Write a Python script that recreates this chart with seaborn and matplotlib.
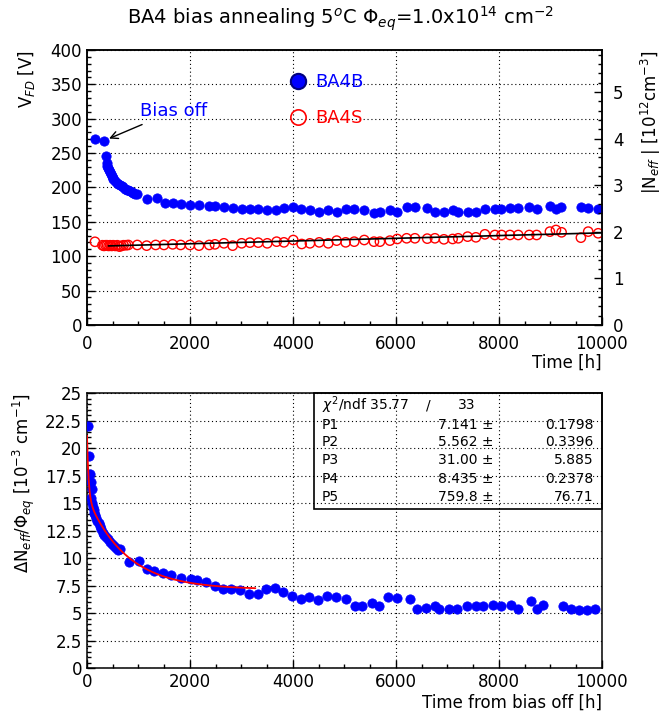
import numpy as np
import pandas as pd
import seaborn as sb
import matplotlib.pyplot as plt
from matplotlib.lines import Line2D
from matplotlib.patches import Rectangle
from matplotlib.ticker import MultipleLocator

# ------------------ Datos panel superior ------------------
# BA4B (puntos azules llenos)
t_b = [155, 330, 370, 382, 398, 414, 430, 447, 463, 480, 496, 512, 544, 576, 608, 641, 673,
       705, 738, 770, 803, 835, 868, 900, 938, 977, 1160, 1365, 1515, 1664, 1825, 2000, 2175,
       2375, 2490, 2660, 2840, 3004, 3165, 3326, 3500, 3670, 3825, 4006, 4165, 4330, 4510,
       4690, 4850, 5023, 5190, 5385, 5573, 5690, 5883, 6025, 6207, 6370, 6608, 6757, 6932,
       7100, 7210, 7392, 7555, 7728, 7922, 8050, 8215, 8375, 8590, 8730, 8990, 9100, 9215,
       9593, 9735, 9930]
v_b = [270, 268, 246, 235, 231, 228, 225, 222, 219, 217, 214, 212, 209, 207, 205, 204, 202,
       200, 198, 197, 196, 195, 193, 192, 191, 190, 183, 184, 178, 177, 176, 174.5, 174.5,
       173, 173, 172, 170, 169, 169, 169, 167, 167, 170, 171, 169, 167, 165, 167, 165, 168,
       168, 167, 163, 165, 167, 165, 171, 171, 170, 164, 165, 167, 164, 165, 165, 168, 168,
       169, 170, 170, 171, 168, 173, 169, 172, 172, 170, 169]

# BA4S (circulos rojos abiertos)
t_s = [155, 300, 330, 360, 390, 420, 450, 480, 510, 550, 590, 630, 670, 710, 760, 802, 977,
       1159, 1334, 1495, 1664, 1819, 2000, 2175, 2375, 2485, 2660, 2829, 3004, 3165, 3326,
       3501, 3683, 3825, 4006, 4170, 4330, 4510, 4686, 4849, 5023, 5190, 5385, 5573, 5689,
       5883, 6025, 6208, 6369, 6608, 6757, 6932, 7101, 7210, 7392, 7553, 7728, 7922, 8052,
       8214, 8375, 8589, 8732, 8990, 9107, 9217, 9592, 9734, 9928]
v_s = [121, 116, 115, 116, 116, 115, 116, 115, 116, 115, 116, 114, 115, 116, 116, 116.4,
       116.4, 115.4, 116.4, 116.4, 117.3, 116.4, 116.4, 115.4, 116.4, 117.3, 118.8, 115.4,
       118.8, 119.8, 119.8, 118.8, 121.2, 120.2, 123.6, 117.8, 118.8, 120.2, 118.8, 122.7,
       120.2, 121.2, 123.6, 121.2, 121.2, 122.7, 125.1, 126.1, 126.1, 125.6, 126.1, 124.6,
       125.1, 126.1, 128.5, 127.5, 131.9, 130.9, 130.9, 130.9, 130.9, 130.9, 130.9, 135.8,
       138.2, 134.8, 127.0, 135.8, 133.4]

# ajuste lineal BA4S
t_lin = [415, 10000]
v_lin = [115, 134]

# ------------------ Datos panel inferior ------------------
t_off = [26, 45, 58, 70, 80, 91, 100, 115, 130, 145, 160, 180, 200, 225, 250, 280, 310, 340,
         370, 400, 440, 480, 520, 560, 600, 640, 822, 1016, 1159, 1301, 1469, 1625, 1825,
         2019, 2130, 2304, 2485, 2647, 2790, 2971, 3152, 3314, 3476, 3650, 3812, 3987, 4149,
         4317, 4492, 4654, 4835, 5023, 5204, 5346, 5528, 5676, 5851, 6026, 6272, 6402, 6583,
         6757, 6841, 7035, 7191, 7372, 7553, 7683, 7877, 8033, 8233, 8363, 8621, 8744, 8860,
         9237, 9392, 9553, 9714, 9864]
dn = [22.0, 19.3, 17.6, 16.9, 15.5, 16.3, 15.0, 14.6, 14.4, 14.1, 13.9, 13.6, 13.4, 13.2,
      12.9, 12.6, 12.3, 12.1, 11.9, 11.7, 11.5, 11.3, 11.1, 10.9, 10.7, 10.8, 9.67, 9.73,
      9.03, 8.82, 8.67, 8.42, 8.21, 8.06, 8.0, 7.81, 7.45, 7.2, 7.16, 7.05, 6.75, 6.69, 7.14,
      7.24, 6.9, 6.53, 6.23, 6.48, 6.14, 6.53, 6.47, 6.29, 5.68, 5.68, 5.93, 5.68, 6.48, 6.39,
      6.23, 5.38, 5.47, 5.68, 5.32, 5.38, 5.32, 5.62, 5.68, 5.68, 5.74, 5.62, 5.77, 5.32,
      6.08, 5.38, 5.77, 5.68, 5.32, 5.26, 5.26, 5.32]

# parametros del ajuste
par_names = ["P1", "P2", "P3", "P4", "P5"]
par_val = ["7.141", "5.562", "31.00", "8.435", "759.8"]
par_err = ["0.1798", "0.3396", "5.885", "0.2378", "76.71"]
chi2_txt = "35.77"
ndf_txt = "33"
t_fit_max = 3270

# ------------------ Estilo ------------------
sb.set_style("white")
plt.rcParams["font.family"] = ["DejaVu Sans"]
plt.rcParams["mathtext.fontset"] = "dejavusans"
plt.rcParams["text.color"] = "black"
plt.rcParams["axes.labelcolor"] = "black"

fig = plt.figure(figsize=(6.67, 7.19), dpi=100)
ax1 = fig.add_axes([0.1304, 0.548, 0.772, 0.3825])
ax3 = fig.add_axes([0.1304, 0.0709, 0.772, 0.3825])

fs = 12
ms = 45

def estilo(ax):
    ax.set_xlim(0, 10000)
    ax.xaxis.set_major_locator(MultipleLocator(2000))
    ax.xaxis.set_minor_locator(MultipleLocator(500))
    ax.tick_params(which="both", direction="in", left=True, bottom=True,
                   top=False, right=False, labelsize=fs, colors="black")
    ax.tick_params(which="major", length=6, width=1)
    ax.tick_params(which="minor", length=3, width=1)
    ax.grid(True, which="major", ls=(0, (1, 2.5)), color="black", lw=0.8)
    for s in ax.spines.values():
        s.set_color("black")
        s.set_linewidth(1.1)

# ------------------ Panel superior ------------------
df_b = pd.DataFrame({"t": t_b, "v": v_b})
df_s = pd.DataFrame({"t": t_s, "v": v_s})
sb.scatterplot(data=df_b, x="t", y="v", ax=ax1, color="blue", edgecolor="blue",
               s=ms, marker="o", zorder=3)
sb.scatterplot(data=df_s, x="t", y="v", ax=ax1, facecolor="none", edgecolor="red",
               s=ms, marker="o", linewidth=1.0, zorder=3)
ax1.plot(t_lin, v_lin, color="black", lw=1.2, zorder=4)

estilo(ax1)
ax1.tick_params(axis="x", which="major", pad=7)
ax1.set_ylim(0, 400)
ax1.yaxis.set_major_locator(MultipleLocator(50))
ax1.yaxis.set_minor_locator(MultipleLocator(10))
ax1.set_xlabel("Time [h]", fontsize=fs, loc="right", labelpad=1)
ax1.set_ylabel("V$_{FD}$ [V]", fontsize=fs, loc="top", labelpad=10)

ax2 = ax1.twinx()
ax2.set_ylim(0, 5.9)
ax2.yaxis.set_major_locator(MultipleLocator(1))
ax2.yaxis.set_minor_locator(MultipleLocator(0.2))
ax2.tick_params(which="both", direction="in", right=True, labelsize=fs, colors="black")
ax2.tick_params(which="major", length=6, width=1, pad=8)
ax2.tick_params(which="minor", length=3, width=1)
ax2.set_ylabel("|N$_{eff}$ | [10$^{12}$cm$^{-3}$]", fontsize=fs, loc="top", labelpad=11)
for s in ax2.spines.values():
    s.set_color("black")
    s.set_linewidth(1.1)

ax1.annotate("Bias off", xy=(t_b[1], v_b[1]), xytext=(1030, 311), color="blue",
             fontsize=13, va="center", ha="left",
             arrowprops=dict(arrowstyle="->", color="black", lw=1, shrinkA=2, shrinkB=4))

handles = [Line2D([], [], marker="o", ls="", mfc="blue", mec="navy", mew=1.5, ms=11),
           Line2D([], [], marker="o", ls="", mfc="none", mec="red", mew=1.2, ms=11)]
leg = ax1.legend(handles, ["BA4B", "BA4S"], loc="upper left", bbox_to_anchor=(0.36, 0.975),
                 frameon=False, fontsize=13, labelspacing=1.0, handletextpad=0.5,
                 handlelength=1.0)
leg.get_texts()[0].set_color("blue")
leg.get_texts()[1].set_color("red")

# ------------------ Panel inferior ------------------
df_off = pd.DataFrame({"t": t_off, "dn": dn})
sb.scatterplot(data=df_off, x="t", y="dn", ax=ax3, color="blue", edgecolor="blue",
               s=ms, marker="o", zorder=3)

p = [float(v) for v in par_val]
t_fit = np.linspace(0, t_fit_max, 400)
y_fit = p[0] + p[1] * np.exp(-t_fit / p[2]) + p[3] * np.exp(-t_fit / p[4])
ax3.plot(t_fit, y_fit, color="red", lw=1.3, zorder=4)

estilo(ax3)
ax3.set_ylim(0, 25)
ax3.yaxis.set_major_locator(MultipleLocator(2.5))
ax3.yaxis.set_minor_locator(MultipleLocator(0.5))
ax3.yaxis.set_major_formatter(plt.FuncFormatter(lambda v, pos: f"{v:g}"))
ax3.set_xlabel("Time from bias off [h]", fontsize=fs, loc="right", labelpad=2)
ax3.set_ylabel("$\\Delta$N$_{eff}$/$\\Phi_{eq}$ [10$^{-3}$ cm$^{-1}$]", fontsize=fs,
               loc="top", labelpad=6)

# caja de estadisticas
ax3.add_patch(Rectangle((0.441, 0.578), 0.559, 0.422, transform=ax3.transAxes,
                        fill=False, edgecolor="black", lw=1.2, zorder=5, clip_on=False))
fs_box = 10
rows_y = [0.956, 0.884, 0.821, 0.756, 0.687, 0.623]
ax3.text(0.456, rows_y[0], "$\\chi^2$/ndf " + chi2_txt, transform=ax3.transAxes,
         fontsize=fs_box, va="center", ha="left")
ax3.text(0.662, rows_y[0], "/", transform=ax3.transAxes, fontsize=fs_box, va="center", ha="center")
ax3.text(0.738, rows_y[0], ndf_txt, transform=ax3.transAxes, fontsize=fs_box, va="center", ha="center")
for i in range(len(par_names)):
    y = rows_y[i + 1]
    ax3.text(0.456, y, par_names[i], transform=ax3.transAxes, fontsize=fs_box, va="center", ha="left")
    ax3.text(0.79, y, par_val[i] + " \u00b1", transform=ax3.transAxes, fontsize=fs_box,
             va="center", ha="right")
    ax3.text(0.983, y, par_err[i], transform=ax3.transAxes, fontsize=fs_box, va="center", ha="right")

fig.text(0.51, 0.974, "BA4 bias annealing 5$^{o}$C $\\Phi_{eq}$=1.0x10$^{14}$ cm$^{-2}$",
         ha="center", va="center", fontsize=14)

fig.savefig("out.png", dpi=100)
